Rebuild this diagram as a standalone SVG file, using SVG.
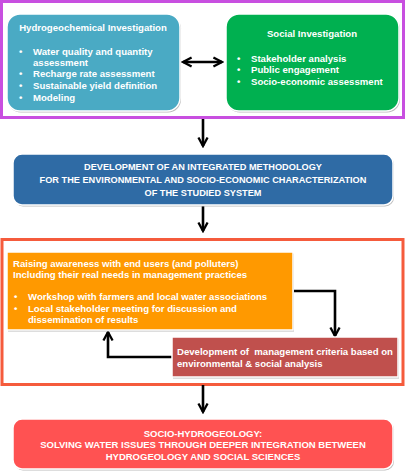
<svg xmlns="http://www.w3.org/2000/svg" width="406" height="474" viewBox="0 0 406 474">
<defs>
<style>
text{font-family:"Liberation Sans",Arial,sans-serif;font-weight:bold;fill:#fff}
.t{font-size:9.6px}
.c{font-size:9.2px;text-anchor:middle}
.f{font-size:9.5px;text-anchor:middle}
.con{fill:none;stroke:#000;stroke-width:2.6}
.box{stroke:#fff;stroke-width:1.5}
.sh{fill:#bbb}
</style>
<marker id="ah" viewBox="0 0 10 10" refX="8.5" refY="5" markerWidth="4.4" markerHeight="4.4" orient="auto-start-reverse" markerUnits="strokeWidth">
<path d="M1,1 L8.5,5 L1,9" fill="none" stroke="#000" stroke-width="2"/>
</marker>
</defs>
<rect width="406" height="474" fill="#fff"/>
<rect x="1.5" y="1.5" width="402" height="116" fill="none" stroke="#c84fe0" stroke-width="3"/>
<rect x="2" y="239.5" width="401" height="145" fill="none" stroke="#f55b3c" stroke-width="3"/>

<g id="connectors">
<path class="con" d="M183,62 L222,62" marker-start="url(#ah)" marker-end="url(#ah)"/>
<path class="con" d="M203,119 L203,146" marker-end="url(#ah)"/>
<path class="con" d="M203,206 L203,231" marker-end="url(#ah)"/>
<path class="con" d="M293,291 L335,291 L335,336" marker-end="url(#ah)"/>
<path class="con" d="M172,357 L108,357 L108,332" marker-end="url(#ah)"/>
<path class="con" d="M203,385 L203,412" marker-end="url(#ah)"/>
</g>

<g id="hydro">
<rect class="sh" x="8" y="15.5" width="173" height="97" rx="13"/>
<rect class="box" x="7" y="14" width="173" height="97" rx="13" fill="#4aaac4"/>
<text class="t" x="93" y="31" text-anchor="middle">Hydrogeochemical Investigation</text>
<text class="t" x="19" y="55">•</text><text class="t" x="33" y="55">Water quality and quantity</text>
<text class="t" x="33" y="66">assessment</text>
<text class="t" x="19" y="77">•</text><text class="t" x="33" y="77">Recharge rate assessment</text>
<text class="t" x="19" y="89">•</text><text class="t" x="33" y="89">Sustainable yield definition</text>
<text class="t" x="19" y="101">•</text><text class="t" x="33" y="101">Modeling</text>
</g>

<g id="social">
<rect class="sh" x="227" y="15.5" width="173" height="97" rx="13"/>
<rect class="box" x="226" y="14" width="173" height="97" rx="13" fill="#00b050"/>
<text class="t" x="312" y="37" text-anchor="middle">Social Investigation</text>
<text class="t" x="237" y="62">•</text><text class="t" x="251" y="62">Stakeholder analysis</text>
<text class="t" x="237" y="73">•</text><text class="t" x="251" y="73">Public engagement</text>
<text class="t" x="237" y="85">•</text><text class="t" x="251" y="85">Socio-economic assessment</text>
</g>

<g id="method">
<rect class="sh" x="14" y="155.5" width="380" height="51" rx="9"/>
<rect class="box" x="13" y="154" width="380" height="51" rx="9" fill="#2f6ba5"/>
<text class="c" x="203" y="169.5">DEVELOPMENT OF AN INTEGRATED METHODOLOGY</text>
<text class="c" x="203" y="182.5">FOR THE ENVIRONMENTAL AND SOCIO-ECONOMIC CHARACTERIZATION</text>
<text class="c" x="203" y="196">OF THE STUDIED SYSTEM</text>
</g>

<g id="awareness">
<rect class="sh" x="8" y="253.5" width="286" height="78"/>
<rect class="box" x="7" y="252" width="286" height="78" fill="#ff9900"/>
<text class="t" x="13" y="267">Raising awareness with end users (and polluters)</text>
<text class="t" x="13" y="278">Including their real needs in management practices</text>
<text class="t" x="14" y="300">•</text><text class="t" x="28" y="300">Workshop with farmers and local water associations</text>
<text class="t" x="14" y="312">•</text><text class="t" x="28" y="312">Local stakeholder meeting for discussion and</text>
<text class="t" x="28" y="323">dissemination of results</text>
</g>

<g id="criteria">
<rect class="sh" x="173" y="338.5" width="226" height="40"/>
<rect class="box" x="172" y="337" width="226" height="40" fill="#c0504d"/>
<text class="t" x="177" y="355" xml:space="preserve">Development of  management criteria based on</text>
<text class="t" x="177" y="367">environmental &amp; social analysis</text>
</g>

<g id="socio">
<rect class="sh" x="14" y="420.5" width="380" height="50" rx="9"/>
<rect class="box" x="13" y="419" width="380" height="50" rx="9" fill="#ff5252"/>
<text class="f" x="203" y="436.5">SOCIO-HYDROGEOLOGY:</text>
<text class="f" x="203" y="448">SOLVING WATER ISSUES THROUGH DEEPER INTEGRATION BETWEEN</text>
<text class="f" x="203" y="459.5">HYDROGEOLOGY AND SOCIAL SCIENCES</text>
</g>
</svg>
